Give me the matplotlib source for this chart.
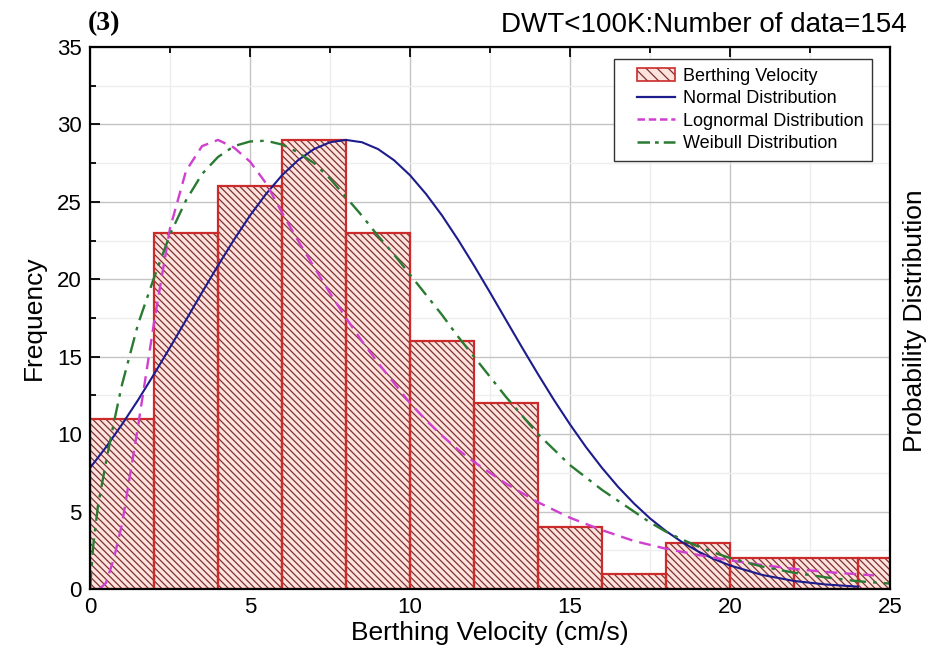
import matplotlib
matplotlib.use("Agg")
import matplotlib.pyplot as plt
from matplotlib.patches import Patch
from matplotlib.lines import Line2D
from matplotlib.legend_handler import HandlerLine2D, HandlerTuple
from matplotlib.ticker import MultipleLocator

plt.rcParams['font.family'] = ['Liberation Sans', 'DejaVu Sans']
plt.rcParams['hatch.linewidth'] = 0.9

# histogram of berthing velocity (bin left edges, width 2 cm/s)
bin_left = [0, 2, 4, 6, 8, 10, 12, 14, 16, 18, 20, 22, 24]
counts = [11, 23, 26, 29, 23, 16, 12, 4, 1, 3, 2, 2, 2]

# fitted curves (scaled to frequency)
normal_x = [0, 0.5, 1, 1.5, 2, 2.5, 3, 3.5, 4, 4.5, 5, 5.5, 6, 6.5, 7, 7.5, 8,
            8.5, 9, 9.5, 10, 10.5, 11, 11.5, 12, 12.5, 13, 13.5, 14, 14.5, 15,
            15.5, 16, 16.5, 17, 17.5, 18, 18.5, 19, 19.5, 20, 21, 22, 23, 24]
normal_y = [7.82, 9.16, 10.63, 12.2, 13.87, 15.6, 17.37, 19.15, 20.89, 22.56,
            24.12, 25.51, 26.72, 27.69, 28.41, 28.85, 29.0, 28.85, 28.41, 27.69,
            26.72, 25.51, 24.12, 22.56, 20.89, 19.15, 17.37, 15.6, 13.87, 12.2,
            10.63, 9.16, 7.82, 6.6, 5.52, 4.56, 3.74, 3.03, 2.43, 1.93, 1.52,
            0.91, 0.52, 0.29, 0.15]

lognorm_x = [0.3, 0.5, 0.75, 1, 1.5, 2, 2.5, 3, 3.5, 4, 4.5, 5, 5.5, 6, 6.5, 7,
             7.5, 8, 8.5, 9, 9.5, 10, 10.5, 11, 11.5, 12, 13, 14, 15, 16, 17,
             18, 19, 20, 21, 22, 23, 24, 24.5]
lognorm_y = [0, 0.4, 2.0, 4.2, 10.5, 17.2, 23.3, 27.0, 28.6, 29.0, 28.5, 27.6,
             26.2, 24.3, 22.5, 20.8, 19.1, 17.5, 16.0, 14.6, 13.3, 12.0, 10.9,
             9.9, 9.0, 8.2, 6.8, 5.6, 4.6, 3.8, 3.1, 2.6, 2.2, 1.85, 1.55, 1.3,
             1.1, 0.95, 0.88]

weibull_x = [0, 0.1, 0.25, 0.5, 0.75, 1, 1.5, 2, 2.5, 3, 3.5, 4, 4.5, 5, 5.5, 6,
             6.5, 7, 7.5, 8, 8.5, 9, 9.5, 10, 10.5, 11, 11.5, 12, 12.5, 13,
             13.5, 14, 14.5, 15, 15.5, 16, 16.5, 17, 17.5, 18, 18.5, 19, 19.5,
             20, 21, 22, 23, 24, 25]
weibull_y = [0, 2.8, 5.4, 8.2, 10.8, 13.2, 17.1, 20.1, 22.9, 25.1, 26.8, 27.9,
             28.6, 28.9, 28.95, 28.7, 28.2, 27.5, 26.5, 25.3, 24.1, 22.8, 21.6,
             20.3, 19.0, 17.7, 16.3, 15.0, 13.7, 12.4, 11.2, 10.0, 9.0, 8.0, 7.2,
             6.4, 5.7, 5.0, 4.3, 3.7, 3.2, 2.75, 2.35, 2.0, 1.45, 1.05, 0.75,
             0.5, 0.35]

bar_face = '#fde3de'
hatch_col = '#7e3030'
bar_edge = '#cc2b2b'
hatch_pat = '\\' * 5

fig = plt.figure(figsize=(9.3, 6.54), dpi=100)
ax = fig.add_axes([0.0968, 0.0994, 0.8602, 0.8287])

ax.bar(bin_left, counts, width=2, align='edge', color=bar_face,
       edgecolor=hatch_col, hatch=hatch_pat, linewidth=0, zorder=2)
ax.bar(bin_left, counts, width=2, align='edge', fill=False,
       edgecolor=bar_edge, linewidth=1.6, zorder=3)

ax.plot(normal_x, normal_y, color='#1c1c8c', lw=1.5, zorder=4)
ax.plot(lognorm_x, lognorm_y, color='#d040d0', lw=1.7, ls=(0, (5, 3)), zorder=4)
ax.plot(weibull_x, weibull_y, color='#2a7a32', lw=1.7,
        ls=(0, (7, 3, 1.5, 3)), zorder=4)

ax.set_xlim(0, 25)
ax.set_ylim(0, 35)
ax.xaxis.set_major_locator(MultipleLocator(5))
ax.xaxis.set_minor_locator(MultipleLocator(2.5))
ax.yaxis.set_major_locator(MultipleLocator(5))
ax.yaxis.set_minor_locator(MultipleLocator(2.5))
ax.grid(which='major', color='#c4c4c4', lw=1.0, zorder=0)
ax.grid(which='minor', color='#eeeeee', lw=1.0, zorder=0)
ax.set_axisbelow(True)
ax.tick_params(which='both', direction='in', top=True, right=False,
               labelsize=16, pad=6, width=1.3)
ax.tick_params(which='major', length=7)
ax.tick_params(which='minor', length=4)
for s in ax.spines.values():
    s.set_linewidth(1.6)
    s.set_zorder(5)

ax.set_xlabel('Berthing Velocity (cm/s)', fontsize=19, labelpad=2)
ax.set_ylabel('Frequency', fontsize=19, labelpad=8)

fig.text(0.984, 0.51, 'Probability Distribution', rotation=90,
         ha='center', va='center', fontsize=19)
fig.text(0.975, 0.962, 'DWT<100K:Number of data=154', ha='right',
         va='center', fontsize=20)
fig.text(0.094, 0.964, '(3)', ha='left', va='center', fontsize=20,
         fontweight='bold', family='Liberation Serif')

h_bar = (Patch(facecolor=bar_face, edgecolor=hatch_col, hatch='\\' * 3, lw=0),
         Patch(fill=False, edgecolor=bar_edge, lw=1.2))
handles = [h_bar,
           Line2D([], [], color='#1c1c8c', lw=1.6),
           Line2D([], [], color='#d040d0', lw=1.8, ls=(0, (3, 1.5))),
           Line2D([], [], color='#2a7a32', lw=1.8, ls=(0, (5, 2, 1.5, 2)))]
labels = ['Berthing Velocity', 'Normal Distribution',
          'Lognormal Distribution', 'Weibull Distribution']
hmap = {tuple: HandlerTuple(ndivide=1, xpad=0.78),
        Line2D: HandlerLine2D(xpad=0.78)}
leg = ax.legend(handles, labels, loc='upper right', handler_map=hmap,
                bbox_to_anchor=(0.978, 0.978), borderaxespad=0,
                fontsize=13, fancybox=False, framealpha=1, edgecolor='#333333',
                handlelength=2.85, handletextpad=0.45, labelspacing=0.3,
                borderpad=0.5)
leg.get_frame().set_linewidth(1.0)
leg.set_zorder(6)

fig.savefig('out.png', dpi=100)
